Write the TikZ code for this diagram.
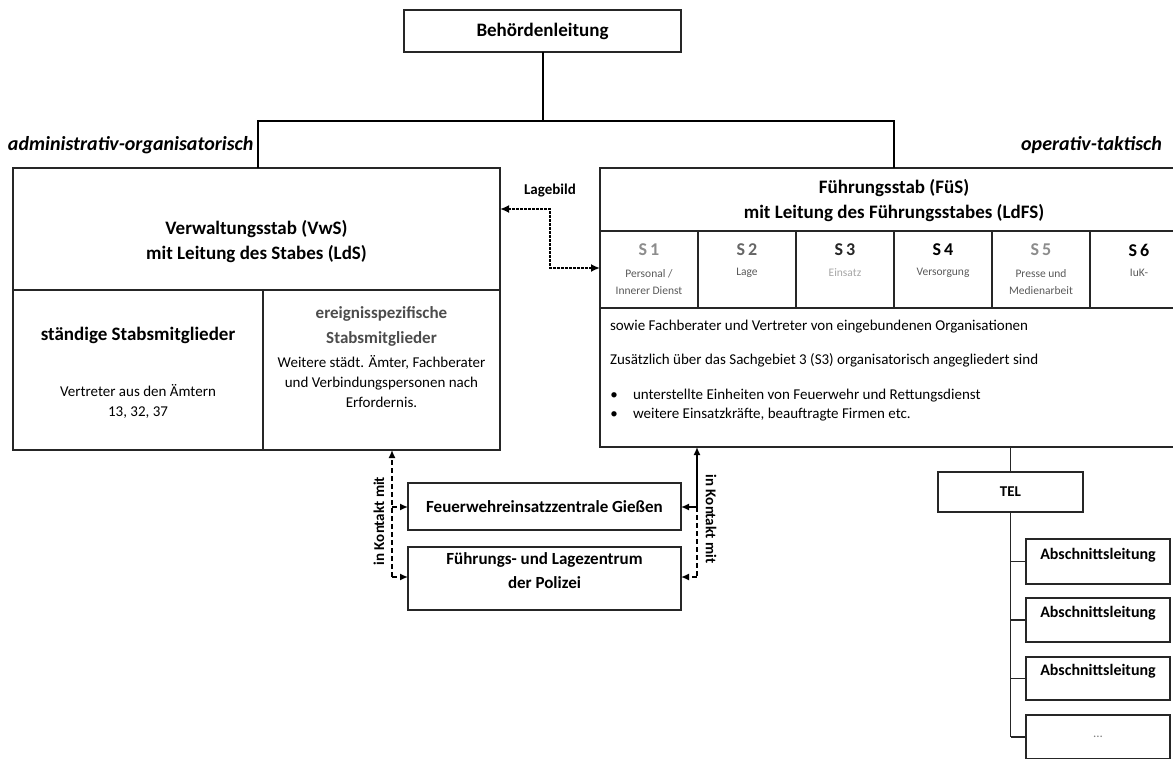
\documentclass[tikz,border=0pt]{standalone}
\usepackage{fontspec}
\setmainfont{Carlito}
\usetikzlibrary{arrows.meta,fit}
\begin{document}
\begin{tikzpicture}[x=1pt,y=-1pt,
  frame/.style={draw=black!85,line width=1.2pt,inner sep=0pt,outer sep=0pt},
  tree/.style={draw=black,line width=2pt},
  thinl/.style={draw=black!85,line width=1.2pt},
  txt/.style={inner sep=0pt,outer sep=0pt,align=center},
  big/.style={txt,font=\fontsize{19}{25}\selectfont\bfseries},
  mid/.style={txt,font=\fontsize{17}{25}\selectfont\bfseries},
  sml/.style={txt,font=\fontsize{15}{20}\selectfont},
  lbl/.style={txt,font=\fontsize{20}{23}\selectfont\bfseries\itshape},
  slab/.style={txt,font=\fontsize{18}{22}\selectfont\bfseries},
  ssub/.style={txt,font=\fontsize{11.5}{17}\selectfont,text=black!65},
  arr/.style={-{Latex[length=8pt,width=7pt]}},
  dsh/.style={dash pattern=on 5pt off 3pt,line width=1.5pt},
  lag/.style={{Latex[length=9pt,width=8pt]}-{Latex[length=9pt,width=8pt]},line width=2.4pt,dash pattern=on 2.4pt off 1.6pt},
  kont/.style={txt,font=\fontsize{15}{18}\selectfont\bfseries},
  boxt/.style={txt,font=\fontsize{17}{24}\selectfont\bfseries},
]
\useasboundingbox (0,0) rectangle (1173,758);

% top
\node[frame,fit={(404,10) (681,52)}] (beh) {};
\node[big] (beht) at (beh.center) {Behördenleitung};

% left box (Verwaltungsstab)
\node[frame,fit={(13,168) (500,290)}] (vwsA) {};
\node[frame,fit={(13,290) (263,450)}] (vwsB) {};
\node[frame,fit={(263,290) (500,450)}] (vwsC) {};
\node[big] (vwst) at (256.5,242) {Verwaltungsstab (VwS)\\mit Leitung des Stabes (LdS)};
\node[big] (staend) at (138,335) {ständige Stabsmitglieder};
\node[sml] (vertr) at (138,401) {Vertreter aus den Ämtern\\13, 32, 37};
\node[mid,text=black!70] (ereig) at (381.5,326) {ereignisspezifische\\Stabsmitglieder};
\node[sml] (weit) at (381.5,382) {Weitere städt. Ämter, Fachberater\\und Verbindungspersonen nach\\Erfordernis.};

% right box (Fuehrungsstab)
\node[frame,fit={(600,168) (1188,231)}] (fuesA) {};
\node[frame,fit={(600,231) (698,308)}] (s1) {};
\node[frame,fit={(698,231) (796,308)}] (s2) {};
\node[frame,fit={(796,231) (894,308)}] (s3) {};
\node[frame,fit={(894,231) (992,308)}] (s4) {};
\node[frame,fit={(992,231) (1090,308)}] (s5) {};
\node[frame,fit={(1090,231) (1188,308)}] (s6) {};
\node[frame,fit={(600,308) (1188,447)}] (fuesC) {};
\node[big] (fuest) at (894,201) {Führungsstab (FüS)\\mit Leitung des Führungsstabes (LdFS)};

\node[slab,text=black!45] (s1l) at (649,250) {S\,1};
\node[slab,text=black!60] (s2l) at (747,250) {S\,2};
\node[slab,text=black!85] (s3l) at (845,250) {S\,3};
\node[slab] (s4l) at (943,250) {S\,4};
\node[slab,text=black!45] (s5l) at (1041,250) {S\,5};
\node[slab] (s6l) at (1139,250) {S\,6};
\node[ssub] (s1s) at (649,282) {Personal /\\Innerer Dienst};
\node[ssub] (s2s) at (747,273) {Lage};
\node[ssub,text=black!35] (s3s) at (845,273) {Einsatz};
\node[ssub] (s4s) at (943,273) {Versorgung};
\node[ssub] (s5s) at (1041,282) {Presse und\\Medienarbeit};
\node[ssub] (s6s) at (1139,273) {IuK-};

\node[sml,anchor=west] (sowie) at (610,327) {sowie Fachberater und Vertreter von eingebundenen Organisationen};
\node[sml,anchor=west] (zus) at (610,360) {Zusätzlich über das Sachgebiet 3 (S3) organisatorisch angegliedert sind};
\node[sml,anchor=west] (b1) at (633,396) {unterstellte Einheiten von Feuerwehr und Rettungsdienst};
\node[sml,anchor=west] (b2) at (633,415) {weitere Einsatzkräfte, beauftragte Firmen etc.};
\node[sml,anchor=center] (d1) at (614,396) {•};
\node[sml,anchor=center] (d2) at (614,415) {•};

% labels
\node[lbl,anchor=west] (adm) at (8,145) {administrativ-organisatorisch};
\node[lbl,anchor=east] (ope) at (1162,145) {operativ-taktisch};

% tree
\coordinate (J) at (542.5,121);
\coordinate (JL) at (258,121);
\coordinate (JR) at (894,121);
\draw[tree] (beh.south) -- (J);
\draw[tree] (JL |- vwsA.north) -- (JL) -- (JR) -- (JR |- fuesA.north);

% Lagebild
\node[txt,font=\fontsize{15}{18}\selectfont\bfseries] (lagebild) at (550,191) {Lagebild};
\coordinate (LB1) at (550,209);
\coordinate (LB2) at (550,268);
\draw[lag] (vwsA.east |- LB1) -- (LB1) -- (LB2) -- (s1.west |- LB2);

% bottom centres
\node[frame,fit={(408,483) (681,530)}] (feu) {};
\node[boxt] (feut) at (feu.center) {Feuerwehreinsatzzentrale Gießen};
\node[frame,fit={(408,547) (681,610)}] (pol) {};
\node[boxt] (polt) at (544.5,571) {Führungs- und Lagezentrum\\der Polizei};

\coordinate (KL1) at (392,507);
\coordinate (KL2) at (392,577);
\draw[dsh,arr] (KL2) -- (KL2 |- vwsC.south);
\draw[dsh,arr] (KL1) -- (feu.west |- KL1);
\draw[dsh,arr] (KL2) -- (pol.west |- KL2);
\node[kont,rotate=90] (k1) at (379,521) {in Kontakt mit};

\coordinate (KR1) at (697,507);
\coordinate (KR2) at (697,577);
\draw[line width=1.5pt,arr] (KR1) -- (KR1 |- fuesC.south);
\draw[line width=1.5pt,arr] (KR1) -- (feu.east |- KR1);
\draw[dsh] (KR1) -- (KR2);
\draw[dsh,arr] (KR2) -- (pol.east |- KR2);
\node[kont,rotate=-90] (k2) at (711,519) {in Kontakt mit};

% TEL
\node[frame,fit={(938,472) (1083,512)}] (tel) {};
\node[txt,font=\fontsize{15}{18}\selectfont\bfseries] (telt) at (tel.center) {TEL};
\draw[thinl] (tel.north) -- (tel.north |- fuesC.south);
\node[frame,fit={(1026,539) (1170,584)}] (a1) {};
\node[frame,fit={(1026,598) (1170,642)}] (a2) {};
\node[frame,fit={(1026,657) (1170,700)}] (a3) {};
\node[frame,fit={(1026,715) (1170,759)}] (a4) {};
\node[txt,font=\fontsize{16}{19}\selectfont\bfseries] (a1t) at (1098,555) {Abschnittsleitung};
\node[txt,font=\fontsize{16}{19}\selectfont\bfseries] (a2t) at (1098,613) {Abschnittsleitung};
\node[txt,font=\fontsize{16}{19}\selectfont\bfseries] (a3t) at (1098,671) {Abschnittsleitung};
\node[txt,font=\fontsize{13}{16}\selectfont,text=black!50] (a4t) at (1098,737) {...};
\draw[thinl] (tel.south) -- (tel.south |- a4.west);
\draw[thinl] (tel.south |- a1.west) -- (a1.west);
\draw[thinl] (tel.south |- a2.west) -- (a2.west);
\draw[thinl] (tel.south |- a3.west) -- (a3.west);
\draw[thinl] (tel.south |- a4.west) -- (a4.west);
\end{tikzpicture}
\end{document}
